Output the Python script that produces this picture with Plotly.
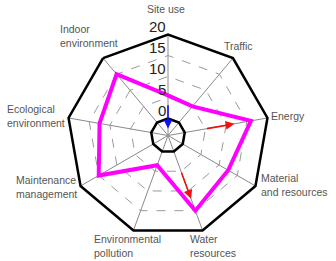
import math
import plotly.graph_objects as go

# ---- data ----
categories = ["Site use", "Traffic", "Energy", "Material<br>and resources",
              "Water<br>resources", "Environmental<br>pollution",
              "Maintenance<br>management", "Ecological<br>environment",
              "Indoor<br>environment"]
scores = [5.5, 5, 16, 12.5, 15, 3.5, 15, 12.5, 15]
radial_ticks = [0, 5, 10, 15, 20]
# arrows: (category index, start value, end value, colour)
arrow_idx = [0, 2, 4]
arrow_from = [3.5, 5, 5]
arrow_to = [-2.4, 12, 12]
arrow_colors = ["#1010ff", "#f01010", "#f01010"]

# ---- layout geometry (pixels) ----
W, H = 336, 261
CX, CY, RAD = 168, 135.5, 101
RMIN, RMAX = -4.05, 20
n = len(categories)
FONT = "Liberation Sans, Arial, sans-serif"


def to_px(idx, val):
    ang = math.radians(idx * 360 / n)
    rp = RAD * (val - RMIN) / (RMAX - RMIN)
    return CX + rp * math.sin(ang), CY - rp * math.cos(ang)


fig = go.Figure()

closed_c = categories + [categories[0]]

# inner solid ring at 0
fig.add_trace(go.Scatterpolar(r=[0] * len(closed_c), theta=closed_c, mode="lines",
                              line=dict(color="black", width=2.5), hoverinfo="skip"))
# centre dot
fig.add_trace(go.Scatterpolar(r=[RMIN], theta=[categories[0]], mode="markers",
                              marker=dict(color="#777777", size=3), hoverinfo="skip"))

# main series
fig.add_trace(go.Scatterpolar(r=scores + [scores[0]], theta=closed_c, mode="lines",
                              line=dict(color="#ff00ff", width=4)))

# arrows (positions derived from the polar scale)
for i, a, b, col in zip(arrow_idx, arrow_from, arrow_to, arrow_colors):
    hx, hy = to_px(i, b)
    tx, ty = to_px(i, a)
    fig.add_annotation(x=hx / W, y=1 - hy / H, xref="paper", yref="paper",
                       ax=tx - hx, ay=ty - hy, axref="pixel", ayref="pixel",
                       showarrow=True, arrowhead=2, arrowsize=1.1, arrowwidth=1.6,
                       arrowcolor=col, standoff=0, startstandoff=0, text="")

# radial tick labels, placed from the radial scale, slightly above each ring
for v in radial_ticks:
    px, py = to_px(0, v)
    fig.add_annotation(x=px / W, y=1 - py / H, xref="paper", yref="paper",
                       text=str(v), showarrow=False, xanchor="right", yanchor="middle",
                       xshift=-1, yshift=8, borderpad=0,
                       font=dict(size=15, color="#222222", family=FONT))

# category labels as annotations placed around the polygon
label_style = [  # (radius px, xanchor, yanchor, xshift, yshift)
    (119, "center", "bottom", -2, 0),
    (108, "center", "bottom", 1, 0),
    (104, "left", "middle", 0, 1),
    (104, "left", "middle", 2, 2),
    (104, "center", "top", 9, 1),
    (104, "center", "top", -5, 1),
    (104, "right", "middle", 0, 1),
    (104, "right", "middle", 0, 1),
    (108, "center", "bottom", -10, 3),
]
for i, (cat, st) in enumerate(zip(categories, label_style)):
    rr, xa, ya, xs, ys = st
    ang = math.radians(i * 360 / n)
    px = CX + rr * math.sin(ang)
    py = CY - rr * math.cos(ang)
    fig.add_annotation(x=px / W, y=1 - py / H, xref="paper", yref="paper",
                       text=cat, showarrow=False, xanchor=xa, yanchor=ya,
                       xshift=xs, yshift=ys, align="left", borderpad=0,
                       font=dict(size=10.5, color="#555555", family=FONT))

fig.update_layout(
    width=W, height=H,
    margin=dict(l=0, r=0, t=0, b=0),
    paper_bgcolor="white",
    showlegend=False,
    polar=dict(
        domain=dict(x=[(CX - RAD) / W, (CX + RAD) / W],
                    y=[1 - (CY + RAD) / H, 1 - (CY - RAD) / H]),
        bgcolor="white",
        gridshape="linear",
        radialaxis=dict(range=[RMIN, RMAX], tickvals=radial_ticks,
                        angle=90, showticklabels=False,
                        showline=False, ticks="",
                        gridcolor="#9a9a9a", griddash="dash", gridwidth=1),
        angularaxis=dict(direction="clockwise", rotation=90,
                         categoryarray=categories, type="category",
                         showticklabels=False, ticks="",
                         showline=True, linecolor="black", linewidth=2.5,
                         gridcolor="#8a8a8a", gridwidth=1),
    ),
)

fig.write_html("out.html")
